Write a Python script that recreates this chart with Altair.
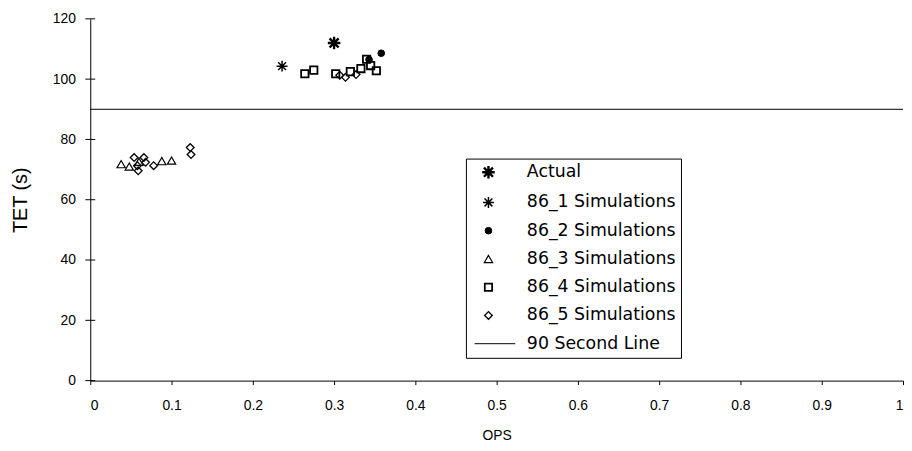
import altair as alt
import pandas as pd

series_names = ["Actual", "86_1 Simulations", "86_2 Simulations", "86_3 Simulations",
                "86_4 Simulations", "86_5 Simulations", "90 Second Line"]

actual_x = [0.300]
actual_y = [112.0]
s1_x = [0.236]
s1_y = [104.3]
s2_x = [0.358, 0.343]
s2_y = [108.6, 106.5]
s3_x = [0.038, 0.048, 0.060, 0.088, 0.100]
s3_y = [71.8, 71.0, 72.6, 72.8, 73.0]
s4_x = [0.264, 0.275, 0.302, 0.320, 0.333, 0.345, 0.340, 0.352]
s4_y = [101.8, 103.0, 101.8, 102.5, 103.5, 104.5, 106.6, 102.8]
s5_x = [0.054, 0.066, 0.058, 0.068, 0.059, 0.078, 0.123, 0.124, 0.307, 0.314, 0.327]
s5_y = [74.0, 74.0, 71.3, 72.4, 69.6, 71.3, 77.3, 75.0, 101.3, 100.6, 101.5]
line_value = 90

x_ticks = [0, 0.1, 0.2, 0.3, 0.4, 0.5, 0.6, 0.7, 0.8, 0.9, 1]
y_ticks = [0, 20, 40, 60, 80, 100, 120]

rows = []
for name, xs, ys in [(series_names[0], actual_x, actual_y), (series_names[1], s1_x, s1_y),
                     (series_names[2], s2_x, s2_y), (series_names[3], s3_x, s3_y),
                     (series_names[4], s4_x, s4_y), (series_names[5], s5_x, s5_y)]:
    for a, b in zip(xs, ys):
        rows.append({"OPS": a, "TET": b, "Series": name})
df = pd.DataFrame(rows)

asterisk = "M-1,0L1,0M0,-1L0,1M-0.72,-0.72L0.72,0.72M-0.72,0.72L0.72,-0.72"
shapes = [asterisk, asterisk, "circle", "triangle-up", "square", "diamond", "M-3.5,0L6.75,0"]
fills = ["black", "transparent", "black", "transparent", "transparent", "transparent", "transparent"]
strokes = ["black"] * 7
sizes = [160, 120, 45, 70, 55, 60, 64]
widths = [2.4, 1.5, 1.0, 1.2, 1.8, 1.3, 1.0]

font = "Liberation Sans"
legend = alt.Legend(title=None, orient="none", legendX=379, legendY=141,
                    strokeColor="black", fillColor="white", padding=5,
                    labelFont="DejaVu Sans", labelFontSize=17.5, labelColor="black",
                    rowPadding=9.5, labelOffset=30, symbolOffset=9)

points = alt.Chart(df).mark_point(opacity=1).encode(
    x=alt.X("OPS:Q", scale=alt.Scale(domain=[0, 1], nice=False),
            axis=alt.Axis(values=x_ticks, title="OPS", format="~g", labelFlush=True)),
    y=alt.Y("TET:Q", scale=alt.Scale(domain=[0, 120], nice=False),
            axis=alt.Axis(values=y_ticks, title="TET (s)", ticks=False)),
    shape=alt.Shape("Series:N", scale=alt.Scale(domain=series_names, range=shapes), legend=legend),
    fill=alt.Fill("Series:N", scale=alt.Scale(domain=series_names, range=fills), legend=legend),
    stroke=alt.Stroke("Series:N", scale=alt.Scale(domain=series_names, range=strokes), legend=legend),
    size=alt.Size("Series:N", scale=alt.Scale(type="ordinal", domain=series_names, range=sizes), legend=legend),
    strokeWidth=alt.StrokeWidth("Series:N", scale=alt.Scale(type="ordinal", domain=series_names, range=widths), legend=legend),
)

hline = alt.Chart(pd.DataFrame({"y": [line_value]})).mark_rule(color="black", strokeWidth=1).encode(
    y="y:Q")

yticks = alt.Chart(pd.DataFrame({"t": y_ticks})).mark_rule(color="black", strokeWidth=1).encode(
    y="t:Q", x=alt.value(-5), x2=alt.value(5))

chart = alt.layer(hline, yticks, points).properties(
    width=820, height=365,
    autosize=alt.AutoSizeParams(type="none"),
    padding={"left": 83, "top": 9, "right": 1, "bottom": 61},
).configure_view(stroke=None).configure_axis(
    grid=False, domainColor="black", tickColor="black", labelColor="black", titleColor="black",
    labelFont=font, titleFont=font, labelFontSize=14, titleFontWeight="normal",
).configure_axisX(
    tickSize=4, labelPadding=14, titlePadding=16, titleFontSize=14,
).configure_axisY(
    labelPadding=15, titlePadding=22, titleFontSize=20,
)

chart.save("out.html", embed_options={"renderer": "svg", "actions": False})
